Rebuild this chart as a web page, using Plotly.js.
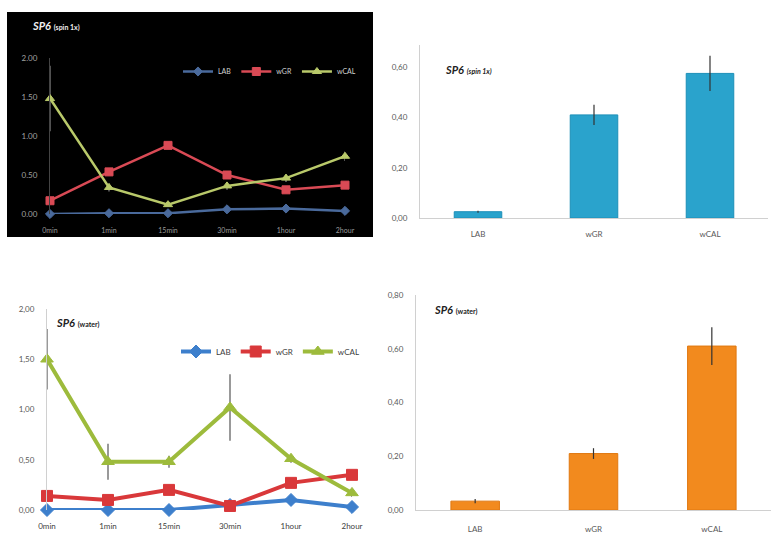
<!DOCTYPE html>
<html>
<head>
<meta charset="utf-8">
<script src="https://cdn.plot.ly/plotly-3.0.1.min.js"></script>
<style>html,body{margin:0;padding:0;background:#fff;}#chart{width:774px;height:537px;}</style>
</head>
<body>
<div id="chart"></div>
<script>
// ---- data ----
var timePoints = ["0min", "1min", "15min", "30min", "1hour", "2hour"];
var groups = ["LAB", "wGR", "wCAL"];

// SP6 (spin 1x) time course
var spinLAB = [0.00, 0.01, 0.01, 0.06, 0.07, 0.04];
var spinLABErr = [0.01, 0.01, 0.01, 0.01, 0.01, 0.01];
var spinWGR = [0.17, 0.54, 0.88, 0.50, 0.31, 0.37];
var spinWGRErr = [0.03, 0.04, 0.04, 0.05, 0.03, 0.03];
var spinWCAL = [1.48, 0.34, 0.12, 0.36, 0.46, 0.74];
var spinWCALErr = [0.42, 0.05, 0.03, 0.05, 0.05, 0.06];

// SP6 (spin 1x) totals
var spinBar = [0.025, 0.41, 0.575];
var spinBarErr = [0.004, 0.04, 0.07];

// SP6 (water) time course
var waterLAB = [0.00, 0.00, 0.00, 0.05, 0.10, 0.03];
var waterLABErr = [0.01, 0.01, 0.01, 0.01, 0.02, 0.01];
var waterWGR = [0.14, 0.10, 0.20, 0.04, 0.27, 0.35];
var waterWGRErr = [0.03, 0.03, 0.03, 0.02, 0.03, 0.03];
var waterWCAL = [1.50, 0.48, 0.48, 1.02, 0.51, 0.17];
var waterWCALErr = [0.30, 0.18, 0.06, 0.33, 0.04, 0.04];

// SP6 (water) totals
var waterBar = [0.033, 0.21, 0.61];
var waterBarErr = [0.008, 0.02, 0.07];

var tlTickVals = [0, 0.5, 1.0, 1.5, 2.0];
var tlTickText = ["0.00", "0.50", "1.00", "1.50", "2.00"];

// ---- styling ----
var cLAB = "#3d7fcc", cWGR = "#d9383a", cWCAL = "#9dbb3c";
var font = "Lato, 'Open Sans', 'Liberation Sans', sans-serif";

function lineTrace(y, err, name, color, sym, xa, ya, lg, w, ms, errColor, show) {
  return {
    type: "scatter", mode: "lines+markers", x: timePoints, y: y, name: name,
    xaxis: xa, yaxis: ya, legend: lg, showlegend: show, cliponaxis: false,
    line: {color: color, width: w},
    marker: {color: color, symbol: sym, size: ms, line: {color: color, width: 1}},
    error_y: {type: "data", array: err, visible: true, color: errColor, thickness: 1.2, width: 0}
  };
}

var data = [
  lineTrace(spinLAB, spinLABErr, "LAB", "#4a6a9c", "diamond", "x", "y", "legend", 2.5, 7, "#777", true),
  lineTrace(spinWGR, spinWGRErr, "wGR", "#d94a55", "square", "x", "y", "legend", 2.5, 8, "#777", true),
  lineTrace(spinWCAL, spinWCALErr, "wCAL", "#b9c96a", "triangle-up", "x", "y", "legend", 2.5, 8, "#888", true),
  {type: "bar", x: groups, y: spinBar, xaxis: "x2", yaxis: "y2", showlegend: false, width: 0.41,
   marker: {color: "#2aa3cc", line: {color: "#1d8fb8", width: 1}},
   error_y: {type: "data", array: spinBarErr, visible: true, color: "#333", thickness: 1.2, width: 0}},
  lineTrace(waterLAB, waterLABErr, "LAB", cLAB, "diamond", "x3", "y3", "legend2", 4, 10, "#555", true),
  lineTrace(waterWGR, waterWGRErr, "wGR", cWGR, "square", "x3", "y3", "legend2", 4, 11, "#555", true),
  lineTrace(waterWCAL, waterWCALErr, "wCAL", cWCAL, "triangle-up", "x3", "y3", "legend2", 4, 11, "#555", true),
  {type: "bar", x: groups, y: waterBar, xaxis: "x4", yaxis: "y4", showlegend: false, width: 0.41,
   marker: {color: "#f28a1e", line: {color: "#e07810", width: 1}},
   error_y: {type: "data", array: waterBarErr, visible: true, color: "#333", thickness: 1.2, width: 0}}
];

var W = 774, H = 537;
function px(v) { return v / W; }
function py(v) { return 1 - v / H; }

var tickFont = {family: font, size: 8, color: "#595959"};
var layout = {
  width: W, height: H,
  margin: {l: 0, r: 0, t: 0, b: 0},
  paper_bgcolor: "#ffffff", plot_bgcolor: "rgba(0,0,0,0)",
  separators: ",.",
  font: {family: font},
  shapes: [
    {type: "rect", xref: "paper", yref: "paper", x0: px(7), x1: px(373), y0: py(237), y1: py(12),
     fillcolor: "#000000", line: {width: 0}, layer: "below"}
  ],
  xaxis: {domain: [px(50), px(345)], range: [0, 5], anchor: "y", showgrid: false, zeroline: false,
          showline: false, ticks: "", ticklabelstandoff: 11,
          tickfont: {family: font, size: 7, color: "#9a9a9a"}},
  yaxis: {domain: [py(214), py(58)], range: [0, 2], anchor: "x", showgrid: false, zeroline: false,
          showline: true, linecolor: "#444", linewidth: 1, tickvals: tlTickVals, ticktext: tlTickText,
          ticks: "", ticklabelstandoff: 10, tickfont: {family: font, size: 8, color: "#a0a0a0"}},
  xaxis2: {domain: [px(420), px(768)], range: [-0.5, 2.5], anchor: "y2", showgrid: false, zeroline: false,
           showline: true, linecolor: "#d0d0d0", ticks: "", ticklabelstandoff: 8, tickfont: tickFont},
  yaxis2: {domain: [py(218), py(45)], range: [0, 0.688], anchor: "x2", showgrid: false, zeroline: false,
           showline: true, linecolor: "#d0d0d0", dtick: 0.2, tickformat: ".2f", ticks: "",
           ticklabelstandoff: 10, tickfont: tickFont},
  xaxis3: {domain: [px(47), px(352)], range: [0, 5], anchor: "y3", showgrid: false, zeroline: false,
           showline: false, ticks: "", ticklabelstandoff: 10,
           tickfont: {family: font, size: 8, color: "#404040"}},
  yaxis3: {domain: [py(510), py(309)], range: [0, 2], anchor: "x3", showgrid: false, zeroline: false,
           showline: true, linecolor: "#d0d0d0", dtick: 0.5, tickformat: ".2f", ticks: "",
           ticklabelstandoff: 10, tickfont: tickFont},
  xaxis4: {domain: [px(416), px(771)], range: [-0.5, 2.5], anchor: "y4", showgrid: false, zeroline: false,
           showline: true, linecolor: "#d0d0d0", ticks: "", ticklabelstandoff: 11, tickfont: tickFont},
  yaxis4: {domain: [py(510), py(295)], range: [0, 0.8], anchor: "x4", showgrid: false, zeroline: false,
           showline: true, linecolor: "#d0d0d0", dtick: 0.2, tickformat: ".2f", ticks: "",
           ticklabelstandoff: 10, tickfont: tickFont},
  legend: {x: px(178), y: py(57), xanchor: "left", yanchor: "top", orientation: "h",
           bgcolor: "rgba(0,0,0,0)", font: {family: font, size: 7, color: "#d0d0d0"},
           itemwidth: 30, tracegroupgap: 0},
  legend2: {x: px(176), y: py(337), xanchor: "left", yanchor: "top", orientation: "h",
            bgcolor: "rgba(0,0,0,0)", font: {family: font, size: 8, color: "#404040"},
            itemwidth: 30, tracegroupgap: 0},
  annotations: [
    {xref: "paper", yref: "paper", x: px(30), y: py(26), xanchor: "left", yanchor: "middle", showarrow: false,
     text: "<b><i>SP6</i></b> <b><span style='font-size:7px'>(spin 1x)</span></b>",
     font: {family: font, size: 11, color: "#f0f0f0"}},
    {xref: "paper", yref: "paper", x: px(443), y: py(70), xanchor: "left", yanchor: "middle", showarrow: false,
     text: "<b><i>SP6</i></b> <b><i><span style='font-size:7px'>(spin 1x)</span></i></b>",
     font: {family: font, size: 11, color: "#222"}},
    {xref: "paper", yref: "paper", x: px(54), y: py(322), xanchor: "left", yanchor: "middle", showarrow: false,
     text: "<b><i>SP6</i></b> <b><span style='font-size:7px'>(water)</span></b>",
     font: {family: font, size: 11, color: "#222"}},
    {xref: "paper", yref: "paper", x: px(432), y: py(310), xanchor: "left", yanchor: "middle", showarrow: false,
     text: "<b><i>SP6</i></b> <b><span style='font-size:7px'>(water)</span></b>",
     font: {family: font, size: 11, color: "#222"}}
  ]
};

Plotly.newPlot("chart", data, layout, {staticPlot: true, displayModeBar: false});
</script>
</body>
</html>
